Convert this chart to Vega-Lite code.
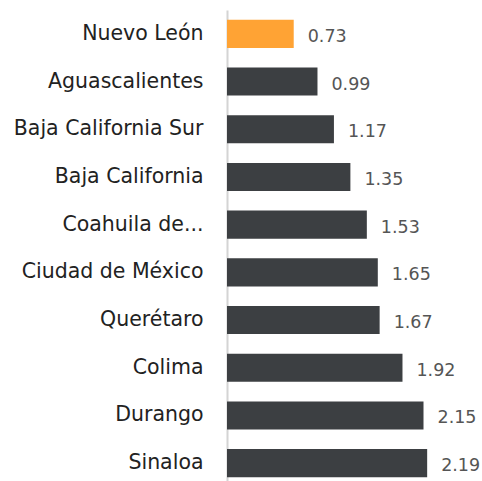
{
  "$schema": "https://vega.github.io/schema/vega-lite/v6.json",
  "width": 255,
  "height": 477,
  "autosize": {"type": "none"},
  "padding": {"left": 227, "top": 10, "right": 0, "bottom": 0},
  "background": "white",
  "config": {"view": {"stroke": null}, "font": "DejaVu Sans"},
  "data": {"values": [
    {"estado": "Nuevo León", "valor": 0.73, "hl": "yes"},
    {"estado": "Aguascalientes", "valor": 0.99, "hl": "no"},
    {"estado": "Baja California Sur", "valor": 1.17, "hl": "no"},
    {"estado": "Baja California", "valor": 1.35, "hl": "no"},
    {"estado": "Coahuila de...", "valor": 1.53, "hl": "no"},
    {"estado": "Ciudad de México", "valor": 1.65, "hl": "no"},
    {"estado": "Querétaro", "valor": 1.67, "hl": "no"},
    {"estado": "Colima", "valor": 1.92, "hl": "no"},
    {"estado": "Durango", "valor": 2.15, "hl": "no"},
    {"estado": "Sinaloa", "valor": 2.19, "hl": "no"}
  ]},
  "encoding": {
    "y": {"field": "estado", "type": "nominal", "sort": null,
      "scale": {"paddingInner": 0.41, "paddingOuter": 0.205},
      "axis": {"title": null, "ticks": false, "labelFontSize": 20.5, "labelColor": "#222222",
        "labelPadding": 24, "domainColor": "#d4d4d4", "domainWidth": 2, "labelLimit": 300, "labelFont": "DejaVu Sans"}},
    "x": {"field": "valor", "type": "quantitative", "scale": {"domain": [0, 2.79], "nice": false},
      "axis": null}
  },
  "layer": [
    {"mark": {"type": "bar"},
     "encoding": {"color": {"field": "hl", "type": "nominal",
       "scale": {"domain": ["yes", "no"], "range": ["#FFA334", "#3C3F42"]}, "legend": null}}},
    {"mark": {"type": "text", "align": "left", "baseline": "middle", "dx": 14, "dy": 3, "fontSize": 17.5, "color": "#555555"},
     "encoding": {"text": {"field": "valor", "type": "quantitative", "format": ".2f"}}}
  ]
}
